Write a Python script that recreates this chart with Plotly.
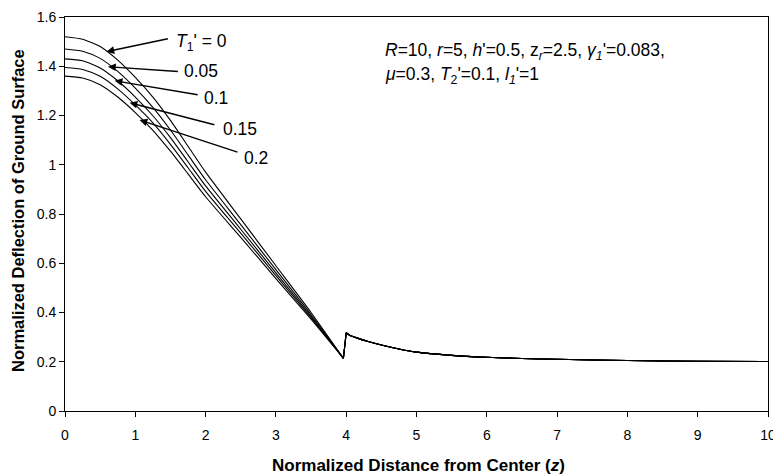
import plotly.graph_objects as go

# ---- data ----
t_labels = ["0", "0.05", "0.1", "0.15", "0.2"]

x_pre = [0, 0.25, 0.5, 0.75, 1, 1.25, 1.5, 1.75, 2, 2.5, 3, 3.5, 3.96]
y_t000 = [1.52, 1.51, 1.48, 1.425, 1.355, 1.275, 1.18, 1.075, 0.97, 0.78, 0.59, 0.40, 0.214]
y_t005 = [1.47, 1.461, 1.432, 1.379, 1.311, 1.233, 1.141, 1.04, 0.939, 0.757, 0.574, 0.392, 0.214]
y_t010 = [1.43, 1.422, 1.393, 1.341, 1.275, 1.199, 1.11, 1.012, 0.914, 0.738, 0.561, 0.385, 0.214]
y_t015 = [1.395, 1.387, 1.359, 1.308, 1.243, 1.17, 1.083, 0.988, 0.892, 0.722, 0.550, 0.379, 0.214]
y_t020 = [1.36, 1.352, 1.325, 1.275, 1.212, 1.14, 1.055, 0.963, 0.87, 0.705, 0.538, 0.373, 0.214]

x_post = [4.0, 4.05, 4.15, 4.3, 4.5, 4.75, 5, 5.5, 6, 6.5, 7, 8, 9, 10]
y_post = [0.318, 0.308, 0.297, 0.283, 0.268, 0.252, 0.239, 0.226, 0.218, 0.213, 0.21, 0.205, 0.202, 0.201]

x_ticks = [0, 1, 2, 3, 4, 5, 6, 7, 8, 9, 10]
y_ticks = [0, 0.2, 0.4, 0.6, 0.8, 1, 1.2, 1.4, 1.6]
y_tick_text = ["0", "0.2", "0.4", "0.6", "0.8", "1", "1.2", "1.4", "1.6"]

# label arrows: tails, tips and text anchors (data units)
label_tail_x = [1.485, 1.627, 1.909, 2.146, 2.475]
label_tail_y = [1.513, 1.378, 1.283, 1.161, 1.049]
label_tip_x = [0.590, 0.612, 0.707, 0.919, 1.061]
label_tip_y = [1.459, 1.398, 1.341, 1.252, 1.182]
label_text_x = [1.556, 1.669, 1.952, 2.221, 2.518]
label_text_y = [1.496, 1.381, 1.273, 1.147, 1.029]

FONT = "Liberation Sans, Arial, sans-serif"
OFF = 8  # page body margin
FW, FH = 781 - OFF, 474 - OFF
RIGHT_PX = 768
L, R, T, B = 65 - OFF, 781 - RIGHT_PX, 17 - OFF, 474 - 411
PW, PH = FW - L - R, FH - T - B
PX0 = 65  # page x of plot left


def px_to_paper_x(px):
    return (px - PX0) / PW


def py_to_paper_y(py):
    return (411 - py) / PH


fig = go.Figure()
pre_series = [y_t000, y_t005, y_t010, y_t015, y_t020]
for ys in pre_series:
    fig.add_trace(go.Scatter(x=x_pre, y=ys, mode="lines",
                             line=dict(color="black", width=1.1, shape="spline", smoothing=0.6),
                             showlegend=False, hoverinfo="skip"))
    fig.add_trace(go.Scatter(x=[x_pre[-1], x_post[0]], y=[ys[-1], y_post[0]], mode="lines",
                             line=dict(color="black", width=1.1),
                             showlegend=False, hoverinfo="skip"))
    fig.add_trace(go.Scatter(x=x_post, y=y_post, mode="lines",
                             line=dict(color="black", width=1.1, shape="spline", smoothing=0.6),
                             showlegend=False, hoverinfo="skip"))

annotations = []
label_texts = ["<i>T</i><sub>1</sub>' = 0"] + t_labels[1:]
for i in range(5):
    annotations.append(dict(x=label_tip_x[i], y=label_tip_y[i], ax=label_tail_x[i], ay=label_tail_y[i],
                            xref="x", yref="y", axref="x", ayref="y", text="",
                            showarrow=True, arrowhead=2, arrowsize=1.1, arrowwidth=1.4,
                            arrowcolor="black"))
    annotations.append(dict(x=label_text_x[i], y=label_text_y[i], xref="x", yref="y",
                            text=label_texts[i], showarrow=False, xanchor="left", yanchor="middle",
                            font=dict(family=FONT, size=17.5, color="black")))

annotations.append(dict(x=px_to_paper_x(383), y=py_to_paper_y(52), xref="paper", yref="paper",
                        text="<i>R</i>=10, <i>r</i>=5, <i>h</i>'=0.5, z<sub><i>r</i></sub>=2.5, <i>γ</i><sub><i>1</i></sub>'=0.083,",
                        showarrow=False, xanchor="left", yanchor="middle",
                        font=dict(family=FONT, size=17.5, color="black")))
annotations.append(dict(x=px_to_paper_x(383), y=py_to_paper_y(75), xref="paper", yref="paper",
                        text="<i>μ</i>=0.3, <i>T</i><sub>2</sub>'=0.1, <i>l</i><sub><i>1</i></sub>'=1",
                        showarrow=False, xanchor="left", yanchor="middle",
                        font=dict(family=FONT, size=17.5, color="black")))
# axis titles
annotations.append(dict(x=px_to_paper_x(418), y=py_to_paper_y(466), xref="paper", yref="paper",
                        text="<b>Normalized Distance from Center (<i>z</i>)</b>",
                        showarrow=False, xanchor="center", yanchor="middle",
                        font=dict(family=FONT, size=17, color="black")))
annotations.append(dict(x=px_to_paper_x(18), y=py_to_paper_y(211), xref="paper", yref="paper",
                        text="<b>Normalized Deflection of Ground Surface</b>", textangle=-90,
                        showarrow=False, xanchor="center", yanchor="middle",
                        font=dict(family=FONT, size=16.5, color="black")))

fig.update_layout(
    width=FW, height=FH,
    margin=dict(l=L, r=R, t=T, b=B, autoexpand=False),
    paper_bgcolor="white", plot_bgcolor="white",
    font=dict(family=FONT, size=14, color="black"),
    annotations=annotations,
    xaxis=dict(range=[0, 10], tickvals=x_ticks, ticks="outside", ticklen=5, tickwidth=1,
               tickcolor="black", showline=True, linecolor="black", linewidth=1, mirror=True,
               showgrid=False, zeroline=False, automargin=False, ticklabelstandoff=6,
               ticklabeloverflow="allow",
               tickfont=dict(family=FONT, size=14)),
    yaxis=dict(range=[0, 1.6], tickvals=y_ticks, ticktext=y_tick_text, ticks="outside", ticklen=5,
               tickwidth=1, tickcolor="black", showline=True, linecolor="black", linewidth=1,
               mirror=True, showgrid=False, zeroline=False, automargin=False,
               ticklabeloverflow="allow",
               tickfont=dict(family=FONT, size=14)),
)

fig.write_html("out.html")
